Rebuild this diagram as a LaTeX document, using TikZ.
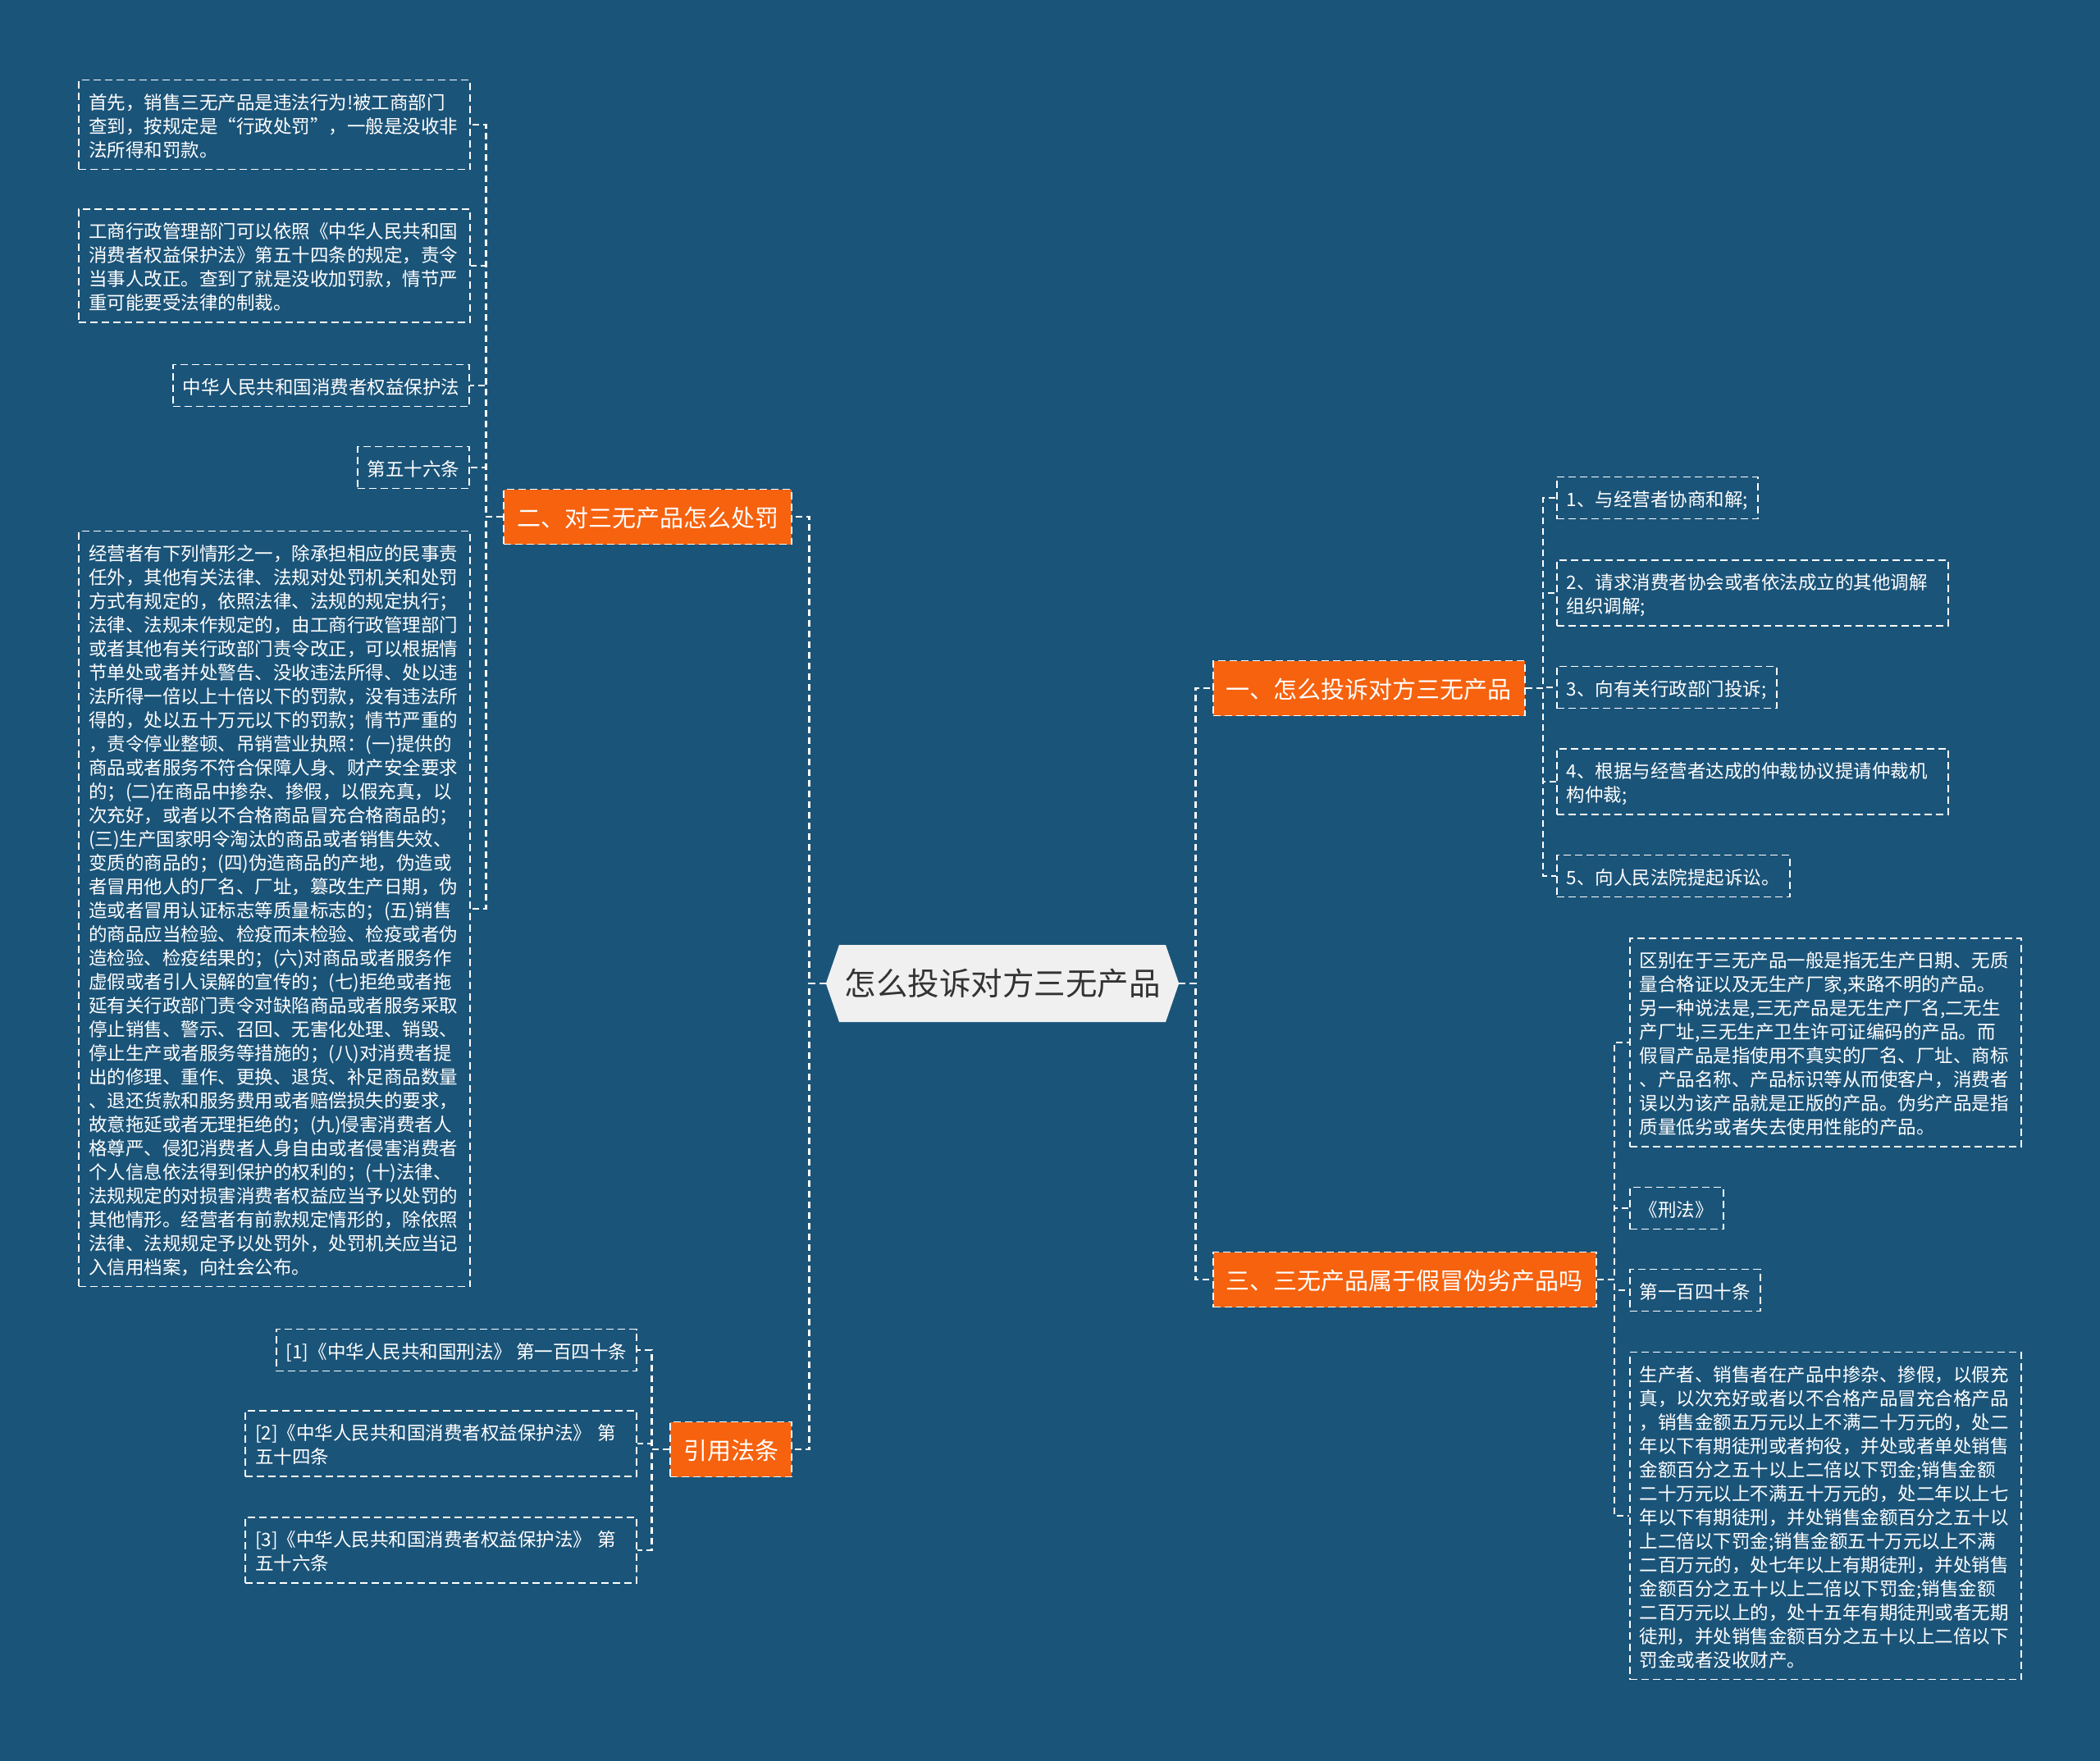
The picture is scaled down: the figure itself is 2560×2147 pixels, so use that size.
\documentclass[tikz,border=0pt]{standalone}
\usepackage{fontspec}
\setmainfont{Noto Sans CJK SC}
\usetikzlibrary{shapes.symbols}
\definecolor{bgblue}{RGB}{27,84,121}
\definecolor{topicorange}{RGB}{246,98,14}
\definecolor{rootgray}{RGB}{240,240,240}
\definecolor{roottext}{RGB}{51,51,51}
\newcommand\leafstrut{\rule[-4.2pt]{0pt}{29pt}}
\newcommand\topicstrut{\rule[-5.8pt]{0pt}{36pt}}

\begin{document}
\begin{tikzpicture}[x=1pt,y=-1pt,
  leaf/.style={draw=white,line width=1.8pt,dash pattern=on 9pt off 5pt,text=white,inner xsep=12pt,inner ysep=11pt,align=left,font=\fontsize{22.5}{29}\selectfont,execute at begin node=\leafstrut,execute at end node=\leafstrut},
  wide/.style={leaf,text width=453pt},
  topic/.style={draw=white,line width=1.8pt,dash pattern=on 9pt off 5pt,fill=topicorange,text=white,inner xsep=16pt,inner ysep=15.5pt,font=\fontsize{29}{36}\selectfont,execute at begin node=\topicstrut},
  link/.style={draw=white,line width=2.6pt,dash pattern=on 8pt off 5pt}]
\path[use as bounding box,fill=bgblue] (0,0) rectangle (2560,2147);
\node[signal,signal to=west and east,signal pointer angle=142,fill=rootgray,text=roottext,minimum height=94pt,inner xsep=6.5pt,font=\fontsize{38.5}{46}\selectfont] (root) at (1222,1199) {怎么投诉对方三无产品};
\node[topic,anchor=east] (punish) at (966,630) {二、对三无产品怎么处罚};
\node[topic,anchor=east] (cite) at (966,1767) {引用法条};
\node[topic,anchor=west] (complain) at (1478,839) {一、怎么投诉对方三无产品};
\node[topic,anchor=west] (fake) at (1478,1560) {三、三无产品属于假冒伪劣产品吗};
\node[wide,anchor=east] (p1) at (574,152) {首先，销售三无产品是违法行为!被工商部门\\查到，按规定是“行政处罚”，一般是没收非\\法所得和罚款。};
\node[wide,anchor=east] (p2) at (574,324) {工商行政管理部门可以依照《中华人民共和国\\消费者权益保护法》第五十四条的规定，责令\\当事人改正。查到了就是没收加罚款，情节严\\重可能要受法律的制裁。};
\node[leaf,anchor=east] (p3) at (573,470) {中华人民共和国消费者权益保护法};
\node[leaf,anchor=east] (p4) at (573,570) {第五十六条};
\node[wide,anchor=east] (p5) at (574,1108) {经营者有下列情形之一，除承担相应的民事责\\任外，其他有关法律、法规对处罚机关和处罚\\方式有规定的，依照法律、法规的规定执行；\\法律、法规未作规定的，由工商行政管理部门\\或者其他有关行政部门责令改正，可以根据情\\节单处或者并处警告、没收违法所得、处以违\\法所得一倍以上十倍以下的罚款，没有违法所\\得的，处以五十万元以下的罚款；情节严重的\\，责令停业整顿、吊销营业执照：(一)提供的\\商品或者服务不符合保障人身、财产安全要求\\的；(二)在商品中掺杂、掺假，以假充真，以\\次充好，或者以不合格商品冒充合格商品的；\\(三)生产国家明令淘汰的商品或者销售失效、\\变质的商品的；(四)伪造商品的产地，伪造或\\者冒用他人的厂名、厂址，篡改生产日期，伪\\造或者冒用认证标志等质量标志的；(五)销售\\的商品应当检验、检疫而未检验、检疫或者伪\\造检验、检疫结果的；(六)对商品或者服务作\\虚假或者引人误解的宣传的；(七)拒绝或者拖\\延有关行政部门责令对缺陷商品或者服务采取\\停止销售、警示、召回、无害化处理、销毁、\\停止生产或者服务等措施的；(八)对消费者提\\出的修理、重作、更换、退货、补足商品数量\\、退还货款和服务费用或者赔偿损失的要求，\\故意拖延或者无理拒绝的；(九)侵害消费者人\\格尊严、侵犯消费者人身自由或者侵害消费者\\个人信息依法得到保护的权利的；(十)法律、\\法规规定的对损害消费者权益应当予以处罚的\\其他情形。经营者有前款规定情形的，除依照\\法律、法规规定予以处罚外，处罚机关应当记\\入信用档案，向社会公布。};
\node[leaf,anchor=east] (q1) at (777,1646) {[1]《中华人民共和国刑法》 第一百四十条};
\node[wide,anchor=east] (q2) at (777,1760) {[2]《中华人民共和国消费者权益保护法》 第\\五十四条};
\node[wide,anchor=east] (q3) at (777,1890) {[3]《中华人民共和国消费者权益保护法》 第\\五十六条};
\node[leaf,anchor=west] (c1) at (1897,607) {1、与经营者协商和解;};
\node[wide,anchor=west] (c2) at (1897,723) {2、请求消费者协会或者依法成立的其他调解\\组织调解;};
\node[leaf,anchor=west] (c3) at (1897,838) {3、向有关行政部门投诉;};
\node[wide,anchor=west] (c4) at (1897,953) {4、根据与经营者达成的仲裁协议提请仲裁机\\构仲裁;};
\node[leaf,anchor=west] (c5) at (1897,1068) {5、向人民法院提起诉讼。};
\node[wide,anchor=west] (f1) at (1986,1271) {区别在于三无产品一般是指无生产日期、无质\\量合格证以及无生产厂家,来路不明的产品。\\另一种说法是,三无产品是无生产厂名,二无生\\产厂址,三无生产卫生许可证编码的产品。而\\假冒产品是指使用不真实的厂名、厂址、商标\\、产品名称、产品标识等从而使客户，消费者\\误以为该产品就是正版的产品。伪劣产品是指\\质量低劣或者失去使用性能的产品。};
\node[leaf,anchor=west] (f2) at (1986,1473) {《刑法》};
\node[leaf,anchor=west] (f3) at (1986,1573) {第一百四十条};
\node[wide,anchor=west] (f4) at (1986,1848) {生产者、销售者在产品中掺杂、掺假，以假充\\真，以次充好或者以不合格产品冒充合格产品\\，销售金额五万元以上不满二十万元的，处二\\年以下有期徒刑或者拘役，并处或者单处销售\\金额百分之五十以上二倍以下罚金;销售金额\\二十万元以上不满五十万元的，处二年以上七\\年以下有期徒刑，并处销售金额百分之五十以\\上二倍以下罚金;销售金额五十万元以上不满\\二百万元的，处七年以上有期徒刑，并处销售\\金额百分之五十以上二倍以下罚金;销售金额\\二百万元以上的，处十五年有期徒刑或者无期\\徒刑，并处销售金额百分之五十以上二倍以下\\罚金或者没收财产。};
\foreach \n in {punish,cite} \draw[link] (root.west) -- ++(-20,0) |- (\n.east);
\foreach \n in {complain,fake} \draw[link] (root.east) -- ++(20,0) |- (\n.west);
\foreach \n in {p1,p2,p3,p4,p5} \draw[link] (punish.west) -- ++(-21,0) |- (\n.east);
\foreach \n in {q1,q2,q3} \draw[link] (cite.west) -- ++(-22,0) |- (\n.east);
\foreach \n in {c1,c2,c3,c4,c5} \draw[link] (complain.east) -- ++(21,0) |- (\n.west);
\foreach \n in {f1,f2,f3,f4} \draw[link] (fake.east) -- ++(21,0) |- (\n.west);
\end{tikzpicture}
\end{document}
